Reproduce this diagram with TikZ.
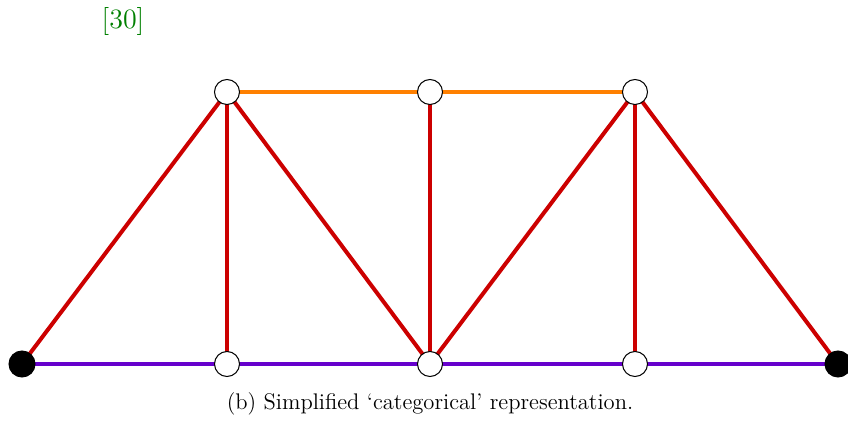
\documentclass[tikz,border=0pt]{standalone}
\usepackage{xcolor}
\usetikzlibrary{backgrounds}
\definecolor{edgered}{RGB}{204,0,0}
\definecolor{edgeorange}{RGB}{255,128,0}
\definecolor{edgepurple}{RGB}{102,0,204}
\definecolor{citegreen}{RGB}{0,128,0}
\begin{document}
\begin{tikzpicture}[x=0.5pt,y=-0.5pt,
  joint/.style={circle,draw=black,fill=white,line width=0.5pt,minimum size=12.5pt,inner sep=0pt},
  support/.style={circle,draw=black,fill=black,line width=0.5pt,minimum size=13pt,inner sep=0pt},
  redbar/.style={edgered,line width=2pt},
  orangebar/.style={edgeorange,line width=2pt},
  purplebar/.style={edgepurple,line width=2pt}]
\useasboundingbox (0,0) rectangle (848,422);
\node[support] (b0) at (22,364) {};
\node[joint] (b1) at (227,364) {};
\node[joint] (b2) at (430,364) {};
\node[joint] (b3) at (635,364) {};
\node[support] (b4) at (838,364) {};
\node[joint] (t1) at (227,92) {};
\node[joint] (t2) at (430,92) {};
\node[joint] (t3) at (635,92) {};
\begin{pgfonlayer}{background}
\draw[purplebar] (b0.center) -- (b1.center) -- (b2.center) -- (b3.center) -- (b4.center);
\draw[orangebar] (t1.center) -- (t2.center) -- (t3.center);
\draw[redbar] (b0.center) -- (t1.center);
\draw[redbar] (b1.center) -- (t1.center);
\draw[redbar] (t1.center) -- (b2.center);
\draw[redbar] (b2.center) -- (t2.center);
\draw[redbar] (b2.center) -- (t3.center);
\draw[redbar] (b3.center) -- (t3.center);
\draw[redbar] (t3.center) -- (b4.center);
\end{pgfonlayer}
\node (cite) at (123,22) {\textcolor{citegreen}{\fontsize{14}{16}\selectfont[30]}};
\node (cap) at (430,404) {\fontsize{11.3}{13}\selectfont(b) Simplified `categorical' representation.};
\end{tikzpicture}
\end{document}
